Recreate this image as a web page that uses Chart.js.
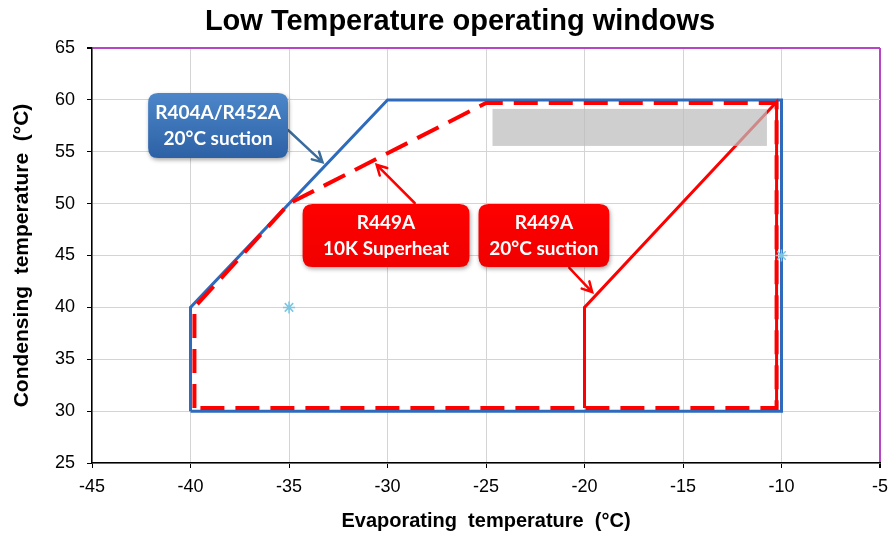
<!DOCTYPE html>
<html>
<head>
<meta charset="utf-8">
<script src="https://cdn.jsdelivr.net/npm/chart.js@4"></script>
<style>
  html, body { margin: 0; padding: 0; background: #fff; }
  #wrap { width: 890px; height: 537px; }
</style>
</head>
<body>
<div id="wrap"><canvas id="chart"></canvas></div>
<script>
// R404A / R452A window, 20°C suction (solid blue)
var r404Evap = [-40, -40, -30, -10, -10, -40];
var r404Cond = [30, 40, 60, 60, 30, 30];

// R449A window, 10K superheat (dashed red)
var shEvap = [-39.8, -39.8, -35, -25, -10.25, -10.25, -39.8];
var shCond = [30.3, 40, 50, 59.7, 59.7, 30.3, 30.3];

// R449A window, 20°C suction (solid red)
var sucEvap = [-20, -20, -10.25, -10.25];
var sucCond = [30.3, 40, 59.8, 30.3];

// loose star markers
var markEvap = [-35, -10];
var markCond = [40, 45];

// axis ticks
var xTicks = [-45, -40, -35, -30, -25, -20, -15, -10, -5];
var yTicks = [25, 30, 35, 40, 45, 50, 55, 60, 65];

function pts(xs, ys) {
    return xs.map(function(x, i) { return { x: x, y: ys[i] }; });
}

// callouts, in axis units
var notes = [
    { lines: ['R404A/R452A', '20°C suction'], box: [-42.15, 60.67, -35.05, 54.4],
      arrow: [-35.05, 57.1, -33.3, 54.0], fill: ['#4c86c9', '#2d61a6'], arrowColor: '#3c6c9c' },
    { lines: ['R449A', '10K Superheat'], box: [-34.31, 49.97, -25.84, 43.89],
      arrow: [-28.62, 50.06, -30.55, 53.73], fill: ['#ff0000', '#f00000'], arrowColor: '#ff0000' },
    { lines: ['R449A', '20°C suction'], box: [-25.38, 49.97, -18.74, 43.89],
      arrow: [-20.77, 43.8, -19.61, 41.48], fill: ['#ff0000', '#f00000'], arrowColor: '#ff0000' }
];
var greyBox = [-24.67, 59.13, -10.74, 55.56];

var PURPLE = '#b646c6';
var GRID = '#d4d4d4';

function roundRect(ctx, x, y, w, h, r) {
    ctx.beginPath();
    ctx.moveTo(x + r, y);
    ctx.lineTo(x + w - r, y);
    ctx.quadraticCurveTo(x + w, y, x + w, y + r);
    ctx.lineTo(x + w, y + h - r);
    ctx.quadraticCurveTo(x + w, y + h, x + w - r, y + h);
    ctx.lineTo(x + r, y + h);
    ctx.quadraticCurveTo(x, y + h, x, y + h - r);
    ctx.lineTo(x, y + r);
    ctx.quadraticCurveTo(x, y, x + r, y);
    ctx.closePath();
}

var calloutPlugin = {
    id: 'callouts',
    afterLayout: function(chart) {
        // the title sits a little right of the canvas centre
        chart.titleBlock.left += 15;
        chart.titleBlock.right += 15;
    },
    afterDatasetsDraw: function(chart) {
        var ctx = chart.ctx;
        var xs = chart.scales.x, ys = chart.scales.y;
        ctx.save();

        // grey patch over the top of the window
        var gx1 = xs.getPixelForValue(greyBox[0]), gy1 = ys.getPixelForValue(greyBox[1]);
        var gx2 = xs.getPixelForValue(greyBox[2]), gy2 = ys.getPixelForValue(greyBox[3]);
        ctx.fillStyle = 'rgba(188,188,188,0.72)';
        ctx.fillRect(gx1, gy1, gx2 - gx1, gy2 - gy1);

        notes.forEach(function(n) {
            // arrow
            var ax1 = xs.getPixelForValue(n.arrow[0]), ay1 = ys.getPixelForValue(n.arrow[1]);
            var ax2 = xs.getPixelForValue(n.arrow[2]), ay2 = ys.getPixelForValue(n.arrow[3]);
            var ang = Math.atan2(ay2 - ay1, ax2 - ax1);
            ctx.strokeStyle = n.arrowColor;
            ctx.lineWidth = 2.5;
            ctx.lineCap = 'round';
            ctx.beginPath();
            ctx.moveTo(ax1, ay1);
            ctx.lineTo(ax2, ay2);
            ctx.moveTo(ax2 - 11 * Math.cos(ang - 0.5), ay2 - 11 * Math.sin(ang - 0.5));
            ctx.lineTo(ax2, ay2);
            ctx.lineTo(ax2 - 11 * Math.cos(ang + 0.5), ay2 - 11 * Math.sin(ang + 0.5));
            ctx.stroke();

            // box
            var bx1 = xs.getPixelForValue(n.box[0]), by1 = ys.getPixelForValue(n.box[1]);
            var bx2 = xs.getPixelForValue(n.box[2]), by2 = ys.getPixelForValue(n.box[3]);
            var grad = ctx.createLinearGradient(0, by1, 0, by2);
            grad.addColorStop(0, n.fill[0]);
            grad.addColorStop(1, n.fill[1]);
            ctx.save();
            ctx.shadowColor = 'rgba(0,0,0,0.35)';
            ctx.shadowBlur = 4;
            ctx.shadowOffsetX = 1;
            ctx.shadowOffsetY = 2;
            roundRect(ctx, bx1, by1, bx2 - bx1, by2 - by1, 10);
            ctx.fillStyle = grad;
            ctx.fill();
            ctx.restore();

            ctx.fillStyle = '#ffffff';
            ctx.font = 'bold 19px Lato, "Open Sans", sans-serif';
            ctx.textAlign = 'center';
            ctx.textBaseline = 'middle';
            var cx = (bx1 + bx2) / 2, cy = (by1 + by2) / 2;
            ctx.fillText(n.lines[0], cx, cy - 13);
            ctx.fillText(n.lines[1], cx, cy + 13);
        });
        ctx.restore();
    }
};

var ctx = document.getElementById('chart').getContext('2d');
new Chart(ctx, {
    type: 'scatter',
    data: {
        datasets: [{
            label: 'markers',
            data: pts(markEvap, markCond),
            showLine: false,
            pointStyle: 'star',
            pointRadius: 6,
            pointBorderWidth: 1.5,
            pointBorderColor: '#7cc6e2',
            pointBackgroundColor: '#7cc6e2'
        }, {
            label: 'R449A 10K Superheat',
            data: pts(shEvap, shCond),
            showLine: true,
            borderColor: '#ff0000',
            borderWidth: 4,
            borderDash: [24, 11],
            borderCapStyle: 'butt',
            pointRadius: 0,
            tension: 0
        }, {
            label: 'R449A 20°C suction',
            data: pts(sucEvap, sucCond),
            showLine: true,
            borderColor: '#ff0000',
            borderWidth: 3,
            pointRadius: 0,
            tension: 0
        }, {
            label: 'R404A/R452A 20°C suction',
            data: pts(r404Evap, r404Cond),
            showLine: true,
            borderColor: '#2e6bbd',
            borderWidth: 3,
            pointRadius: 0,
            tension: 0
        }]
    },
    options: {
        responsive: true,
        maintainAspectRatio: false,
        animation: false,
        layout: { padding: { left: 0, right: 0, top: 0, bottom: 0 } },
        plugins: {
            legend: { display: false },
            tooltip: { enabled: false },
            title: {
                display: true,
                text: 'Low Temperature operating windows',
                color: '#000',
                font: { family: '"Liberation Sans", Arial, sans-serif', size: 29, weight: 'bold' },
                padding: { top: 5, bottom: 8.2 }
            }
        },
        scales: {
            x: {
                type: 'linear',
                min: xTicks[0],
                max: xTicks[xTicks.length - 1],
                afterFit: function(scale) {
                    scale.height = 74;
                    scale.paddingRight = 10;
                },
                afterBuildTicks: function(scale) {
                    scale.ticks = xTicks.map(function(v) { return { value: v }; });
                },
                ticks: {
                    color: '#000',
                    padding: 8,
                    font: { family: '"Liberation Sans", Arial, sans-serif', size: 18 }
                },
                grid: {
                    color: function(c) {
                        return c.tick && c.tick.value === xTicks[xTicks.length - 1] ? PURPLE : GRID;
                    },
                    lineWidth: function(c) {
                        return c.tick && c.tick.value === xTicks[xTicks.length - 1] ? 2 : 1;
                    },
                    tickColor: '#000',
                    tickLength: 5
                },
                border: { color: '#000', width: 1.5 },
                title: {
                    display: true,
                    text: 'Evaporating  temperature  (°C)',
                    color: '#000',
                    font: { family: '"Liberation Sans", Arial, sans-serif', size: 20, weight: 'bold' },
                    padding: { top: 0, bottom: 4 }
                }
            },
            y: {
                type: 'linear',
                min: yTicks[0],
                max: yTicks[yTicks.length - 1],
                afterFit: function(scale) { scale.width = 92; },
                afterBuildTicks: function(scale) {
                    scale.ticks = yTicks.map(function(v) { return { value: v }; });
                },
                ticks: {
                    color: '#000',
                    padding: 12,
                    font: { family: '"Liberation Sans", Arial, sans-serif', size: 18 }
                },
                grid: {
                    color: function(c) {
                        return c.tick && c.tick.value === yTicks[yTicks.length - 1] ? PURPLE : GRID;
                    },
                    lineWidth: function(c) {
                        return c.tick && c.tick.value === yTicks[yTicks.length - 1] ? 2 : 1;
                    },
                    tickColor: '#000',
                    tickLength: 5
                },
                border: { color: '#000', width: 1.5 },
                title: {
                    display: true,
                    text: 'Condensing  temperature  (°C)',
                    color: '#000',
                    font: { family: '"Liberation Sans", Arial, sans-serif', size: 21, weight: 'bold' },
                    padding: { top: 10, bottom: 0 }
                }
            }
        }
    },
    plugins: [calloutPlugin]
});
</script>
</body>
</html>
